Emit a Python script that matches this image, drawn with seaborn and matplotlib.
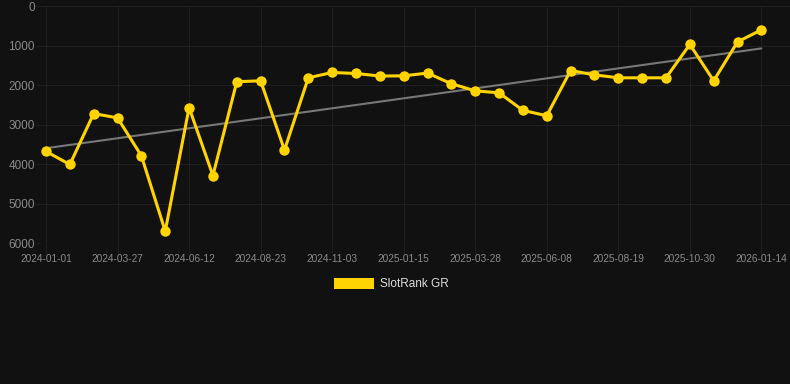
import numpy as np
import pandas as pd
import seaborn as sns
import matplotlib
matplotlib.use("Agg")
import matplotlib.pyplot as plt
from matplotlib.patches import Patch

# data
dates = ["2024-01-01", "2024-01-30", "2024-02-28", "2024-03-27", "2024-04-22", "2024-05-18",
         "2024-06-12", "2024-07-06", "2024-07-30", "2024-08-23", "2024-09-16", "2024-10-10",
         "2024-11-03", "2024-11-27", "2024-12-22", "2025-01-15", "2025-02-08", "2025-03-04",
         "2025-03-28", "2025-04-21", "2025-05-15", "2025-06-08", "2025-07-02", "2025-07-26",
         "2025-08-19", "2025-09-12", "2025-10-06", "2025-10-30", "2025-11-24", "2025-12-19",
         "2026-01-14"]
rank = [3680, 4010, 2720, 2830, 3790, 5700, 2570, 4290, 1915, 1890, 3645, 1815,
        1680, 1705, 1770, 1765, 1695, 1965, 2145, 2195, 2640, 2775, 1630, 1740,
        1815, 1815, 1815, 970, 1890, 905, 600]
y_ticks = [0, 1000, 2000, 3000, 4000, 5000, 6000]

df = pd.DataFrame({"idx": np.arange(len(dates)), "date": dates, "rank": rank})

bg = "#111111"
sns.set_style("dark")
plt.rcParams["font.family"] = ["Liberation Sans", "DejaVu Sans"]

fig = plt.figure(figsize=(7.9, 3.84), dpi=100, facecolor=bg)
ax = fig.add_axes([0.051, 0.367, 0.949, 0.617])
ax.set_facecolor(bg)

# trend line
sns.regplot(data=df, x="idx", y="rank", scatter=False, ci=None, ax=ax,
            line_kws={"color": "#777777", "linewidth": 1.5})
sns.lineplot(data=df, x="idx", y="rank", ax=ax, color="#FFD400", linewidth=2.2,
             marker="o", markersize=7.5, markeredgewidth=0, markerfacecolor="#FFD400")

ax.set_ylim(6000, 0)
ax.set_xlim(-0.24, 31.2)
ax.set_yticks(y_ticks)
ax.set_yticklabels([str(v) for v in y_ticks])
ax.set_xticks(df["idx"][::3])
ax.set_xticklabels(df["date"][::3])
ax.set_xlabel("")
ax.set_ylabel("")

ax.grid(True, color="#1f1f1f", linewidth=0.8)
for s in ax.spines.values():
    s.set_visible(False)
ax.tick_params(axis="x", colors="#1f1f1f", labelcolor="#8a8a8a", labelsize=7.3,
               length=7, width=0.8, pad=1, bottom=True)
ax.tick_params(axis="y", colors="#1f1f1f", labelcolor="#8a8a8a", labelsize=8.5,
               length=3, width=0.8, pad=1, left=True)

fig.legend(handles=[Patch(facecolor="#FFD400", edgecolor="none", label="SlotRank GR")],
           loc="center", bbox_to_anchor=(0.495, 0.26), frameon=False,
           fontsize=8.5, labelcolor="#dddddd", handlelength=3.4, handleheight=1.0,
           handletextpad=0.5)

fig.savefig("out.png", dpi=100, facecolor=bg)
